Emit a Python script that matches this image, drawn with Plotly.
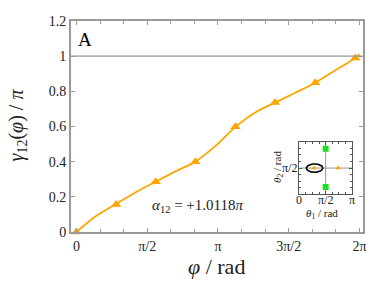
import math
import plotly.graph_objects as go

PI = math.pi

# ---- data ----
curve_x = [0, 0.42, 0.87, 1.31, 1.76, 2.2, 2.64, 3.08, 3.53, 3.97, 4.41, 4.86, 5.30, 5.74, 6.19, 6.283]
curve_y = [0, 0.088, 0.158, 0.225, 0.286, 0.345, 0.40, 0.488, 0.598, 0.68, 0.736, 0.792, 0.849, 0.919, 0.990, 1.012]
marker_x = [0, 0.88, 1.76, 2.64, 3.53, 4.41, 5.30, 6.19]
marker_y = [0, 0.157, 0.286, 0.40, 0.598, 0.736, 0.849, 0.990]

x_tickvals = [0, PI / 2, PI, 3 * PI / 2, 2 * PI]
x_ticktext = ["0", "π/2", "π", "3π/2", "2π"]
y_tickvals = [0, 0.2, 0.4, 0.6, 0.8, 1.0, 1.2]
y_ticktext = ["0", "0.2", "0.4", "0.6", "0.8", "1", "1.2"]

# inset (theta1, theta2) in rad
inset_range = [0, PI]
inset_green_x = [PI / 2, PI / 2]
inset_green_y = [0.87 * PI, 0.14 * PI]
inset_tri_x = [0.28 * PI, 0.74 * PI]
inset_tri_y = [0.5 * PI, 0.5 * PI]
ellipse_center = (0.29 * PI, 0.5 * PI)
ellipse_radii = (0.156 * PI, 0.08 * PI)
inset_x_tickvals = [0, PI / 2, PI]
inset_x_ticktext = ["0", "π/2", "π"]
inset_y_tickvals = [PI / 2]
inset_y_ticktext = ["π/2"]

ORANGE = "#FFA500"
GRAY = "#999999"
DARK = "#555555"
FONT = "Liberation Serif"
TXT = "#222222"

fig = go.Figure()

fig.add_trace(go.Scatter(x=curve_x, y=curve_y, mode="lines",
                         line=dict(color=ORANGE, width=1.8, shape="spline", smoothing=0.8),
                         xaxis="x", yaxis="y", showlegend=False, hoverinfo="skip"))
fig.add_trace(go.Scatter(x=marker_x, y=marker_y, mode="markers",
                         marker=dict(symbol="triangle-up", size=9, color=ORANGE),
                         xaxis="x", yaxis="y", showlegend=False, cliponaxis=False))

# inset: cross lines at pi/2 (drawn first so markers sit on top)
fig.add_trace(go.Scatter(x=[PI / 2, PI / 2], y=inset_range, mode="lines",
                         line=dict(color=GRAY, width=1), xaxis="x2", yaxis="y2",
                         showlegend=False, hoverinfo="skip"))
fig.add_trace(go.Scatter(x=inset_range, y=[PI / 2, PI / 2], mode="lines",
                         line=dict(color=GRAY, width=1), xaxis="x2", yaxis="y2",
                         showlegend=False, hoverinfo="skip"))
fig.add_trace(go.Scatter(x=inset_green_x, y=inset_green_y, mode="markers",
                         marker=dict(symbol="square", size=6, color="#22dd22"),
                         xaxis="x2", yaxis="y2", showlegend=False))
fig.add_trace(go.Scatter(x=inset_tri_x, y=inset_tri_y, mode="markers",
                         marker=dict(symbol="triangle-up", size=5, color=ORANGE),
                         xaxis="x2", yaxis="y2", showlegend=False))

# ellipse outline in the inset, built from its centre and radii
n_ell = 73
ell_x = [ellipse_center[0] + ellipse_radii[0] * math.cos(2 * PI * k / (n_ell - 1)) for k in range(n_ell)]
ell_y = [ellipse_center[1] + ellipse_radii[1] * math.sin(2 * PI * k / (n_ell - 1)) for k in range(n_ell)]
fig.add_trace(go.Scatter(x=ell_x, y=ell_y, mode="lines", line=dict(color="black", width=1.6),
                         xaxis="x2", yaxis="y2", showlegend=False, hoverinfo="skip"))

shapes = [
    dict(type="line", xref="x domain", yref="y", x0=0, x1=1, y0=1, y1=1,
         line=dict(color=GRAY, width=1.3)),
]

annotations = [
    dict(text="A", xref="paper", yref="paper", x=0.048, y=0.913, xanchor="center", yanchor="middle",
         showarrow=False, font=dict(family=FONT, size=19, color="black")),
    dict(text="<i>α</i><sub>12</sub> = +1.0118<i>π</i>", xref="x", yref="y", x=2.705, y=0.149,
         xanchor="center", yanchor="middle", showarrow=False,
         font=dict(family=FONT, size=15, color=TXT)),
    dict(text="<i>φ</i> / rad", xref="paper", yref="paper", x=0.497, y=-0.165,
         xanchor="center", yanchor="middle", showarrow=False,
         font=dict(family=FONT, size=22, color=TXT)),
    dict(text="<i>γ</i><sub>12</sub>(<i>φ</i>) / <i>π</i>", xref="paper", yref="paper", x=-0.182, y=0.509,
         xanchor="center", yanchor="middle", showarrow=False, textangle=-90,
         font=dict(family=FONT, size=20, color=TXT)),
    dict(text="<i>θ</i><sub>1</sub> / rad", xref="paper", yref="paper", x=0.860, y=0.084,
         xanchor="center", yanchor="middle", showarrow=False,
         font=dict(family=FONT, size=11, color=TXT)),
    dict(text="<i>θ</i><sub>2</sub> / rad", xref="paper", yref="paper", x=0.708, y=0.307,
         xanchor="center", yanchor="middle", showarrow=False, textangle=-90,
         font=dict(family=FONT, size=11, color=TXT)),
]
# inset tick labels placed at their tick values
for v, t in zip(inset_x_tickvals, inset_x_ticktext):
    annotations.append(dict(text=t, xref="x2", yref="paper", x=v, y=0.152,
                            xanchor="center", yanchor="middle", showarrow=False,
                            font=dict(family=FONT, size=12, color=TXT)))
for v, t in zip(inset_y_tickvals, inset_y_ticktext):
    annotations.append(dict(text=t, xref="paper", yref="y2", x=0.782, y=v,
                            xanchor="right", yanchor="middle", showarrow=False,
                            font=dict(family=FONT, size=12, color=TXT)))

# page body has an 8px margin, so the figure is 8px smaller than the window
fig.update_layout(
    width=366, height=274,
    margin=dict(l=63, r=11, t=6, b=50),
    paper_bgcolor="white", plot_bgcolor="white",
    font=dict(family=FONT, color=TXT, size=14),
    shapes=shapes,
    annotations=annotations,
    xaxis=dict(range=[-0.12, 6.36], tickvals=x_tickvals, ticktext=x_ticktext,
               ticks="inside", ticklen=4, tickcolor=GRAY, tickwidth=1,
               minor=dict(dtick=PI / 6, tick0=0, ticks="inside", ticklen=3, tickcolor=GRAY, showgrid=False),
               showline=True, linecolor=GRAY, linewidth=2, mirror="allticks",
               showgrid=False, zeroline=False, tickfont=dict(size=14, family=FONT, color=TXT)),
    yaxis=dict(range=[0, 1.2], tickvals=y_tickvals, ticktext=y_ticktext,
               ticks="inside", ticklen=4, tickcolor=GRAY, tickwidth=1,
               showline=True, linecolor=GRAY, linewidth=2, mirror="allticks",
               showgrid=False, zeroline=False, tickfont=dict(size=14, family=FONT, color=TXT)),
    xaxis2=dict(domain=[0.782, 0.962], anchor="y2", range=inset_range,
                tickvals=inset_x_tickvals, showticklabels=False,
                ticks="inside", ticklen=3, tickcolor=DARK, tickwidth=1,
                minor=dict(dtick=PI / 8, tick0=0, ticks="inside", ticklen=2, tickcolor=DARK, showgrid=False),
                showline=True, linecolor=DARK, linewidth=1, mirror="allticks",
                showgrid=False, zeroline=False),
    yaxis2=dict(domain=[0.179, 0.427], anchor="x2", range=inset_range,
                tickvals=inset_y_tickvals, showticklabels=False,
                ticks="inside", ticklen=3, tickcolor=DARK, tickwidth=1,
                minor=dict(dtick=PI / 8, tick0=0, ticks="inside", ticklen=2, tickcolor=DARK, showgrid=False),
                showline=True, linecolor=DARK, linewidth=1, mirror="allticks",
                showgrid=False, zeroline=False),
)

fig.write_html("out.html")
